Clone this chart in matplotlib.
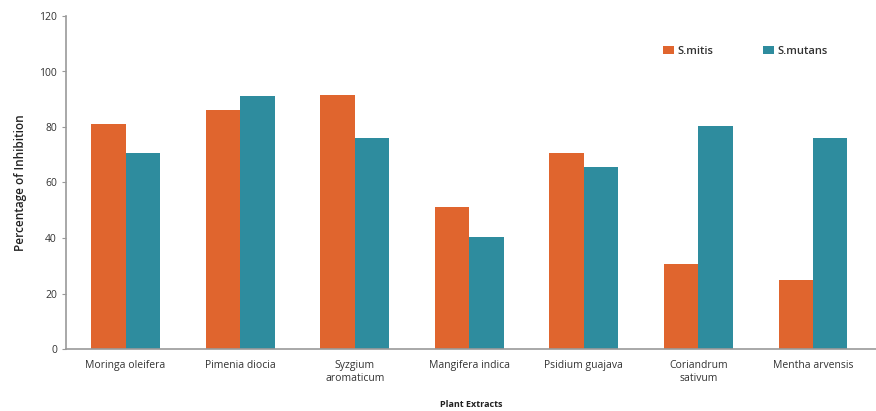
import numpy as np
import matplotlib.pyplot as plt

plt.rcParams['font.family'] = ['Open Sans', 'DejaVu Sans']

# Data
extracts = ["Moringa oleifera", "Pimenia diocia", "Syzgium\naromaticum",
            "Mangifera indica", "Psidium guajava", "Coriandrum\nsativum",
            "Mentha arvensis"]
s_mitis = [81, 86, 91.5, 51, 70.5, 30.5, 25]
s_mutans = [70.5, 91, 76, 40.5, 65.5, 80.5, 76]

orange = "#E0652E"
teal = "#2E8C9E"

fig = plt.figure(figsize=(8.76, 4.11), dpi=100)
ax = fig.add_axes([66 / 876, 1 - 349 / 411, 810 / 876, 333 / 411])

x = np.arange(len(extracts))
w = 0.3
ax.bar(x - w / 2, s_mitis, w, color=orange, label="S.mitis")
ax.bar(x + w / 2, s_mutans, w, color=teal, label="S.mutans")

ax.set_xlim(-0.52, len(extracts) - 0.45)
ax.set_ylim(0, 120)
ax.set_yticks(range(0, 121, 20))
ax.set_xticks(x)
ax.set_xticklabels(extracts, fontsize=7.5, color="#333333")
ax.tick_params(axis="y", labelsize=7.5, colors="#333333", length=3, color="#999999")
ax.tick_params(axis="x", length=0, pad=8)

for side in ["top", "right"]:
    ax.spines[side].set_visible(False)
for side in ["left", "bottom"]:
    ax.spines[side].set_color("#999999")
    ax.spines[side].set_linewidth(1.2)

ax.set_ylabel("Percentage of Inhibition", fontsize=8.5, fontweight="semibold",
              color="#222222", labelpad=9)
ax.set_xlabel("Plant Extracts", fontsize=6.5, fontweight="bold", color="#222222", labelpad=12)

leg = ax.legend(loc="upper right", bbox_to_anchor=(0.953, 0.94), ncol=2, frameon=False,
                prop={"size": 8, "weight": "semibold"}, handlelength=1.0,
                handleheight=0.8, columnspacing=4.5, handletextpad=0.3)
for t in leg.get_texts():
    t.set_color("#333333")

plt.savefig("out.png", dpi=100)
